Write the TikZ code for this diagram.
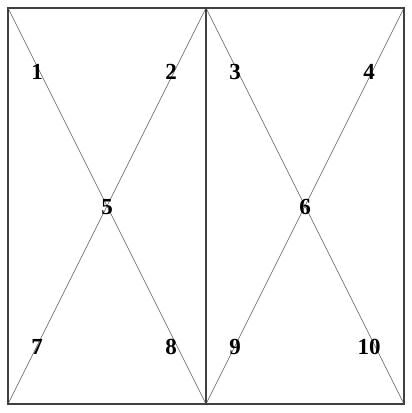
\documentclass[tikz,border=0pt]{standalone}
\usepackage{fontspec}
\setmainfont{Liberation Serif}
\tikzset{
  frame/.style={draw=black!75, line width=1.2pt},
  diag/.style={draw=black!65, line width=0.6pt},
  num/.style={font=\fontsize{23}{23}\selectfont\bfseries, inner sep=0pt}
}
\begin{document}
\begin{tikzpicture}[x=1pt, y=-1pt]
		\useasboundingbox (0,0) rectangle (412,413);
		% Corners
		\coordinate (tl) at (8,8);
		\coordinate (tm) at (206,8);
		\coordinate (tr) at (404,8);
		\coordinate (bl) at (8,404);
		\coordinate (bm) at (206,404);
		\coordinate (br) at (404,404);
		% Diagonals
		\draw[diag] (tl) -- (bm);
		\draw[diag] (tm) -- (bl);
		\draw[diag] (tm) -- (br);
		\draw[diag] (tr) -- (bm);
		% Frame
		\draw[frame] (tl) rectangle (br);
		\draw[frame] (tm) -- (bm);
		% Numbers
		\node[num] (n1) at (37,72) {1};
		\node[num] (n2) at (171,72) {2};
		\node[num] (n3) at (235,72) {3};
		\node[num] (n4) at (369,72) {4};
		\node[num] (n5) at (107,207) {5};
		\node[num] (n6) at (305,207) {6};
		\node[num] (n7) at (37,347) {7};
		\node[num] (n8) at (171,347) {8};
		\node[num] (n9) at (235,347) {9};
		\node[num] (n10) at (369,347) {10};
	\end{tikzpicture}
\end{document}
